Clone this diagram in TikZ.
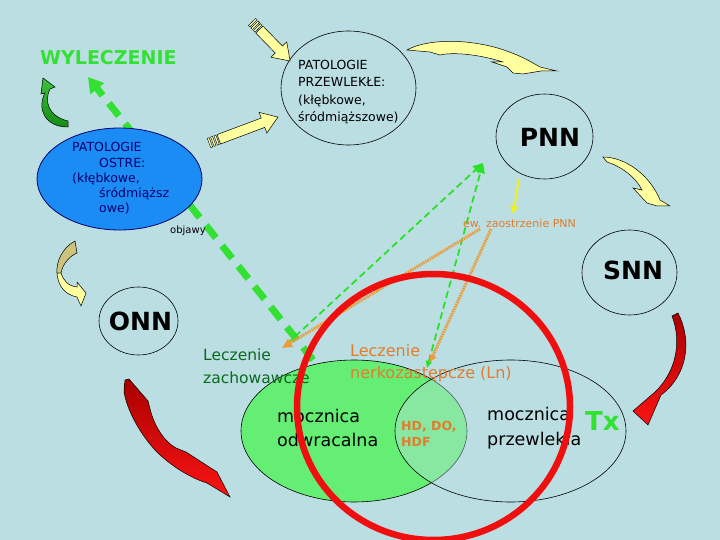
\documentclass[tikz,border=0pt]{standalone}
\usepackage{fontspec}
\setmainfont{DejaVu Sans}
\usetikzlibrary{arrows.meta,shapes.geometric}
\definecolor{bg}{RGB}{187,222,227}
\definecolor{bluefill}{RGB}{28,140,245}
\definecolor{navy}{RGB}{0,0,110}
\definecolor{greenfill}{RGB}{100,238,115}
\definecolor{brightgreen}{RGB}{50,225,50}
\definecolor{dashgreen}{RGB}{40,225,40}
\definecolor{darkgreen}{RGB}{10,105,30}
\definecolor{orangetext}{RGB}{225,125,45}
\definecolor{orangeline}{RGB}{235,155,55}
\definecolor{lightyellow}{RGB}{255,255,160}
\definecolor{olivefill}{RGB}{205,195,125}
\definecolor{redarrow}{RGB}{215,10,10}
\definecolor{darkred}{RGB}{170,0,0}
\definecolor{brightred}{RGB}{250,20,20}
\definecolor{circred}{RGB}{240,15,15}
\definecolor{arrowgreen}{RGB}{60,195,60}
\definecolor{darkarrowgreen}{RGB}{20,140,20}
\definecolor{smallyellow}{RGB}{240,240,30}
\tikzset{
  txt/.style={inner sep=0pt, anchor=west, align=left},
  ell/.style={ellipse, draw=black, line width=0.6pt, inner sep=0pt},
  blockarrow/.pic={
    \foreach \a in {0,3.6,7.2}{
      \filldraw[fill=lightyellow, draw=black, line width=0.4pt] (\a,-5) rectangle (\a+2,5);
    }
    \filldraw[fill=lightyellow, draw=black, line width=0.5pt]
      (10.5,-5) -- (#1-16,-5) -- (#1-16,-11) -- (#1,0) -- (#1-16,11) -- (#1-16,5) -- (10.5,5) -- cycle;
  },
  curvedarrow/.style={draw=black, line width=0.5pt},
  thickdash/.style={draw=brightgreen, line width=7pt, dash pattern=on 16pt off 10pt, -{Triangle[length=15pt,width=17pt]}},
  thindash/.style={draw=dashgreen, line width=1.8pt, dash pattern=on 7pt off 4pt},
  dotline/.style={draw=orangeline, line width=3pt, dash pattern=on 1.6pt off 0.9pt},
}
\begin{document}
\begin{tikzpicture}[x=1pt,y=-1pt]
\useasboundingbox (0,0) rectangle (720,540);
\fill[bg] (0,0) rectangle (720,540);

% coordinates
\coordinate (wyTip) at (88,77);
\coordinate (zachEnd) at (313,360);
\coordinate (pnnIn) at (483,163);
\coordinate (g1s) at (287,344);
\coordinate (g2s) at (427,368);
\coordinate (ewA) at (480,229);
\coordinate (ewB) at (491,229);
\coordinate (o1e) at (282,348);
\coordinate (o2e) at (430,362);
\coordinate (pnnBot) at (519,179);
\coordinate (ewTop) at (513,214);

% thick green dashed arrow (behind blue ellipse)
\draw[thickdash] (zachEnd) -- (wyTip);

% ellipses
\node[ell, draw=navy, fill=bluefill, line width=0.8pt, minimum width=165pt, minimum height=102pt] (ostre) at (119.5,179) {};
\node[ell, minimum width=135pt, minimum height=114pt] (przewl) at (348.5,88) {};
\node[ell, minimum width=97pt, minimum height=85pt] (pnn) at (544.5,136.5) {};
\node[ell, minimum width=95pt, minimum height=85pt] (snn) at (629.5,272.5) {};
\node[ell, minimum width=79pt, minimum height=68pt] (onn) at (138.5,321) {};
\node[ell, fill=greenfill, minimum width=226pt, minimum height=142pt] (odwr) at (354,431) {};
\node[ell, fill=bg, fill opacity=0.42, minimum width=231pt, minimum height=142pt] (przewlM) at (510.5,431) {};

% thin green dashed arrows
\draw[thindash, -{Triangle[length=10pt,width=9pt]}] (g1s) -- (pnnIn);
\draw[thindash, {Triangle[length=7pt,width=6pt]}-{Triangle[length=10pt,width=9pt]}] (g2s) -- (pnnIn);

% orange dotted arrows
\draw[dotline, -{Triangle[length=10pt,width=9pt]}] (ewA) -- (o1e);
\draw[dotline, -{Triangle[length=7pt,width=7pt]}] (ewB) -- (o2e);

% small yellow arrow
\draw[draw=smallyellow, line width=2pt, -{Triangle[length=8pt,width=8pt]}] (pnnBot) -- (ewTop);

% texts
\node[txt, text=brightgreen, font=\fontsize{19}{22}\selectfont\bfseries] (wy) at (40,58) {WYLECZENIE};
\node[txt, font=\fontsize{12.5}{17.5}\selectfont] (przewlT) at (298,92) {PATOLOGIE\\PRZEWLEKŁE:\\(kłębkowe,\\śródmiąższowe)};
\node[txt, text=navy, font=\fontsize{12.5}{15.2}\selectfont] (ostreT) at (72,178.5) {PATOLOGIE\\\hspace*{27pt}OSTRE:\\(kłębkowe,\\\hspace*{27pt}śródmiąższ\\\hspace*{27pt}owe)};
\node[inner sep=0pt, font=\fontsize{25}{28}\selectfont\bfseries] (pnnT) at (550,137) {PNN};
\node[inner sep=0pt, font=\fontsize{25}{28}\selectfont\bfseries] (snnT) at (633,270) {SNN};
\node[inner sep=0pt, font=\fontsize{25}{28}\selectfont\bfseries] (onnT) at (140.5,321) {ONN};
\node[txt, font=\fontsize{10}{12}\selectfont] (objT) at (170,231) {objawy};
\node[txt, text=orangetext, font=\fontsize{11}{13}\selectfont] (ewT) at (463,223) {ew. zaostrzenie PNN};
\node[txt, text=darkgreen, font=\fontsize{15.5}{23}\selectfont] (zachT) at (203,366.5) {Leczenie\\zachowawcze};
\node[txt, text=orangetext, font=\fontsize{16}{22}\selectfont] (lnT) at (350,363) {Leczenie\\nerkozastępcze (Ln)};
\node[txt, font=\fontsize{17.5}{24}\selectfont] (odwrT) at (277,428) {mocznica\\odwracalna};
\node[txt, font=\fontsize{17.5}{25}\selectfont] (przT) at (487,428.5) {mocznica\\przewlekła};
\node[txt, text=orangetext, font=\fontsize{12.5}{16}\selectfont\bfseries] (hdT) at (401,434) {HD, DO,\\HDF};
\node[txt, text=brightgreen, font=\fontsize{26}{28}\selectfont\bfseries] (txT) at (585,421) {Tx};

% red circle
\node[ellipse, draw=circred, line width=6.5pt, inner sep=0pt, minimum width=273pt, minimum height=266pt] (redc) at (433.5,407) {};

% straight block arrows
\pic[rotate=20.6] (arrA) at (209,143) {blockarrow=73.7};
\pic[rotate=-45.7] (arrB) at (252,22) {blockarrow=54.5};

% curved arrows
\filldraw[curvedarrow, fill=lightyellow] (407,50) .. controls (428,38) and (475,38) .. (512,53) .. controls (525,58) and (533,63) .. (540,67) -- (557,71) -- (541,71) -- (523,74) -- (513,73) -- (507,67) -- (492,62) -- (503,62) .. controls (478,54) and (452,52) .. (440,55) -- (430,52) -- cycle;
\filldraw[curvedarrow, fill=lightyellow] (603,157) .. controls (625,157) and (650,175) .. (660,200) -- (670,206) -- (657,206) -- (647,203) -- (633,188) -- (642,190) .. controls (635,176) and (620,166) .. (607,162) -- cycle;
\shadedraw[curvedarrow, top color=darkred, bottom color=brightred] (672,316) -- (678,313) .. controls (692,340) and (688,375) .. (661,395) -- (648,425) -- (633,411) -- (655,392) .. controls (676,372) and (682,342) .. (672,316) -- cycle;
\shadedraw[curvedarrow, top color=darkred, bottom color=brightred] (125,380) -- (129,379) -- (148,401) -- (150,409) .. controls (155,428) and (165,442) .. (176,448) -- (186,452) -- (217,472) -- (230,497) -- (207,483) .. controls (190,478) and (170,465) .. (157,452) .. controls (145,440) and (128,415) .. (124,392) -- cycle;
\filldraw[curvedarrow, fill=olivefill] (75,241) -- (77,253) .. controls (70,256) and (63,263) .. (61,273) -- (57,273) .. controls (56,262) and (62,248) .. (75,241) -- cycle;
\filldraw[curvedarrow, fill=lightyellow] (57,273) -- (61,273) .. controls (63,280) and (68,286) .. (77,287) -- (77,282) -- (86,293) -- (81,306) -- (77,297) .. controls (66,295) and (58,287) .. (57,273) -- cycle;
\shadedraw[curvedarrow, top color=arrowgreen, bottom color=darkarrowgreen] (43,78) -- (55,87) -- (50,89) .. controls (44,101) and (48,116) .. (68,121) -- (68,127) .. controls (44,127) and (37,108) .. (45,93) -- (41,94) -- cycle;
\end{tikzpicture}
\end{document}
